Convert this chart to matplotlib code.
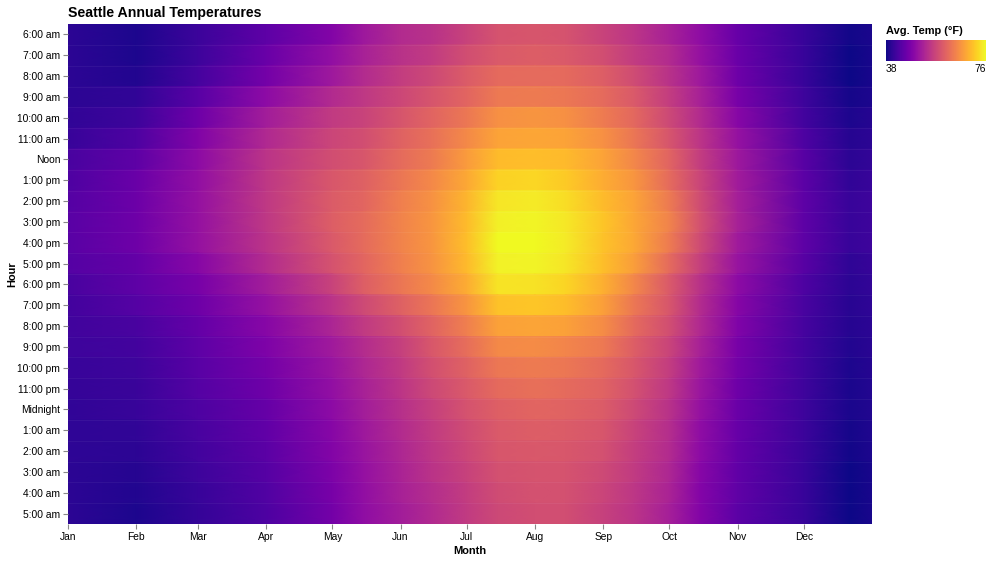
"""Seattle annual temperatures heatmap (hour of day vs. day of year)."""

import matplotlib
matplotlib.use("Agg")
import matplotlib.pyplot as plt
import numpy as np
import pandas as pd

plt.rcParams["font.family"] = ["Liberation Sans", "DejaVu Sans"]

# hour rows, top to bottom
hours = ["6:00 am", "7:00 am", "8:00 am", "9:00 am", "10:00 am", "11:00 am",
         "Noon", "1:00 pm", "2:00 pm", "3:00 pm", "4:00 pm", "5:00 pm",
         "6:00 pm", "7:00 pm", "8:00 pm", "9:00 pm", "10:00 pm", "11:00 pm",
         "Midnight", "1:00 am", "2:00 am", "3:00 am", "4:00 am", "5:00 am"]

months = ["Jan", "Feb", "Mar", "Apr", "May", "Jun",
          "Jul", "Aug", "Sep", "Oct", "Nov", "Dec"]

sample_dates = ["2010-01-01", "2010-02-01", "2010-03-01", "2010-04-01",
                "2010-05-01", "2010-05-15", "2010-06-01", "2010-06-15",
                "2010-07-01", "2010-07-15", "2010-08-01", "2010-08-15",
                "2010-09-01", "2010-09-15", "2010-10-01", "2010-10-15",
                "2010-11-01", "2010-12-01", "2010-12-22", "2011-01-01"]

# avg temp (°F) per hour row, one list per sample date
jan01 = [40, 40, 40, 40, 40.5, 41, 42.5, 43, 43.5, 44, 44, 43.5,
         42.5, 42, 41.8, 41.5, 41, 40.8, 40.5, 40.3, 40.2, 40, 40, 40]
feb01 = [39, 39, 39.3, 40.5, 41.5, 43, 44.5, 45.5, 45.8, 46, 46, 45,
         44.5, 43.5, 42.5, 42, 41.5, 41.2, 41, 40.5, 40, 39.5, 39.2, 39]
mar01 = [41.3, 41.5, 42.3, 44, 46, 47.8, 49, 49.7, 50, 50, 50, 48.5,
         47, 46, 45, 44.5, 44, 43.5, 43, 42.5, 42, 41.5, 41, 40.7]
apr01 = [44.5, 45.5, 46.5, 49, 51.5, 53, 54.5, 55, 55.2, 55, 54.5, 53.5,
         51.5, 50, 48.5, 47.5, 46.7, 46, 45.2, 44.7, 44.2, 43.7, 43.3, 43]
may01 = [48, 49.6, 51, 53.4, 55.5, 56.9, 58, 59.1, 59.7, 60, 59.5, 58.5,
         56.5, 54.6, 52.6, 51.1, 50.2, 49.6, 49, 48.4, 48, 47.4, 47, 46.6]
may15 = [50.8, 52, 53.3, 55, 56.5, 58, 59, 60.3, 61, 61.7, 61.7, 61,
         60, 57.3, 55.3, 53.5, 52.7, 52, 51.4, 50.8, 50.2, 49.8, 49.5, 49.3]
jun01 = [53.3, 54.3, 55.7, 57, 58.8, 60.5, 61.7, 63, 64, 64.5, 64.5, 64,
         63, 60.3, 58, 56, 55.3, 54.7, 54, 53.3, 52.8, 52.3, 52, 51.5]
jun15 = [54.2, 55.5, 57.2, 58.9, 60.8, 62.3, 63.5, 65.1, 66.2, 66.6, 66.6, 66.3,
         65.2, 62.8, 60.7, 59.2, 58.1, 57.2, 56.1, 55.5, 54.8, 54.4, 53.7, 53.2]
jul01 = [56.5, 58, 59.7, 61, 63.2, 65.3, 67.2, 68.5, 69.8, 70.5, 70.7, 70.3,
         69, 66.5, 64, 62, 60.5, 59.5, 58.6, 57.6, 57, 56.3, 55.7, 55.4]
jul15 = [58.5, 59.5, 61.5, 63.3, 66, 68, 70.5, 72.5, 74.3, 75.2, 76, 75.3,
         74.2, 71, 67.8, 65.2, 63.2, 61.5, 60.2, 59.5, 59, 58.3, 57.7, 57.2]
aug01 = [59, 60, 61.7, 63.6, 66.5, 68.3, 70.8, 73, 74.8, 75.6, 76, 75.5,
         74, 71.5, 68.2, 65.5, 63.6, 62.3, 61, 60, 59.3, 58.7, 58.4, 58]
aug15 = [58.5, 59.5, 61.5, 63.2, 66, 68, 70.3, 71.8, 73.5, 74.5, 74.8, 74.3,
         72.8, 70.6, 67.7, 64.8, 63.2, 61.7, 60.6, 59.8, 59.2, 58.6, 58.3, 58]
sep01 = [56.5, 58, 60, 61.7, 63.6, 66, 68, 69, 70.5, 71.3, 71, 70.8,
         69.3, 67.6, 65.5, 63.3, 61.5, 60.6, 59.8, 59, 58.2, 57.3, 56.8, 56.2]
sep15 = [54.7, 55.6, 57.6, 59.5, 61.2, 63, 65, 66.5, 68, 68.3, 68.5, 67.5,
         65, 63.2, 61.5, 60, 59.1, 58.3, 57.3, 56.5, 55.9, 55.4, 54.9, 54.5]
oct01 = [52, 53.3, 54.3, 55.7, 57.2, 58.8, 60.8, 61.7, 63.5, 64.5, 63.6, 61.7,
         59.5, 59, 58, 56.7, 55.7, 55, 54.3, 53.7, 53.3, 52.8, 52.3, 51.8]
oct15 = [49.3, 50, 51, 52, 53.3, 54.7, 55.7, 56.8, 57.6, 58.2, 57.5, 56,
         54.3, 53.5, 53, 52, 51.2, 50.5, 50, 49.3, 49, 48.5, 48.2, 48]
nov01 = [45.3, 45.6, 46, 47, 48.5, 50, 50.8, 51.3, 51.8, 52, 51.2, 50.3,
         49, 48.3, 47.7, 47, 46.5, 46, 45.6, 45.3, 45, 44.8, 44.6, 44.3]
dec01 = [41, 41, 41, 41.5, 42, 43, 43.8, 44.3, 44.5, 44.5, 44.5, 43.8,
         43, 42.5, 42.3, 42, 41.8, 41.7, 41.5, 41.3, 41.2, 41.1, 41, 41]
dec22 = [38.3, 38, 38, 38.5, 39, 39.5, 40, 40.5, 41, 41, 41, 40.3,
         40, 39.7, 39.5, 39.3, 39, 38.8, 38.8, 38.5, 38.3, 38, 38, 38]
dec31 = [38.8, 38.6, 38.6, 39, 39.5, 40, 40.6, 41, 41.5, 41.5, 41.5, 40.9,
         40.6, 40.3, 40, 39.8, 39.6, 39.4, 39.3, 39.1, 38.9, 38.7, 38.6, 38.6]

temp_min, temp_max = 38, 76

temps = np.array([jan01, feb01, mar01, apr01, may01, may15, jun01, jun15,
                  jul01, jul15, aug01, aug15, sep01, sep15, oct01, oct15,
                  nov01, dec01, dec22, dec31]).T  # (hour, date)

start = pd.Timestamp("2010-01-01")
days = np.array([(pd.Timestamp(d) - start).days for d in sample_dates], float)
month_days = [(d - start).days for d in pd.date_range(start, periods=12, freq="MS")]

fig = plt.figure(figsize=(9.92, 5.61), dpi=100)
ax = fig.add_axes([68 / 992, 1 - 524 / 561, 804 / 992, 500 / 561])

cmap = plt.get_cmap("plasma")
for i, row in enumerate(temps):
    X = np.vstack([days, days])
    Y = np.array([[i] * len(days), [i + 1] * len(days)], float)
    C = np.vstack([row, row])
    ax.pcolormesh(X, Y, C, shading="gouraud", cmap=cmap,
                  vmin=temp_min, vmax=temp_max, antialiased=False)
    if i > 0:
        ax.axhline(i, color="white", lw=0.5, alpha=0.07)

ax.set_xlim(0, 365)
ax.set_ylim(len(hours), 0)

ax.set_yticks(np.arange(len(hours)) + 0.5)
ax.set_yticklabels(hours)
ax.set_xticks(month_days)
ax.set_xticklabels(months)
ax.tick_params(axis="both", labelsize=7.4, length=3.6, width=0.8,
               color="#888888", labelcolor="#000000", pad=2)
for s in ax.spines.values():
    s.set_visible(False)

fig.text(68 / 992, 1 - 13 / 561, "Seattle Annual Temperatures",
         fontsize=10.2, fontweight="bold", ha="left", va="center")
fig.text(12 / 992, 1 - 274 / 561, "Hour", fontsize=7.9, fontweight="bold",
         rotation=90, ha="center", va="center")
fig.text(470 / 992, 1 - 551 / 561, "Month", fontsize=7.9, fontweight="bold",
         ha="center", va="center")

# gradient legend
cax = fig.add_axes([886 / 992, 1 - 61 / 561, 100 / 992, 21 / 561])
sm = plt.cm.ScalarMappable(cmap=cmap,
                           norm=plt.Normalize(temp_min, temp_max))
cb = fig.colorbar(sm, cax=cax, orientation="horizontal")
cb.outline.set_visible(False)
cax.set_xticks([])
fig.text(886 / 992, 1 - 31 / 561, "Avg. Temp (°F)", fontsize=7.9,
         fontweight="bold", ha="left", va="center")
fig.text(886 / 992, 1 - 69 / 561, str(temp_min), fontsize=7.4,
         ha="left", va="center")
fig.text(986 / 992, 1 - 69 / 561, str(temp_max), fontsize=7.4,
         ha="right", va="center")

fig.savefig("out.png", dpi=100)
